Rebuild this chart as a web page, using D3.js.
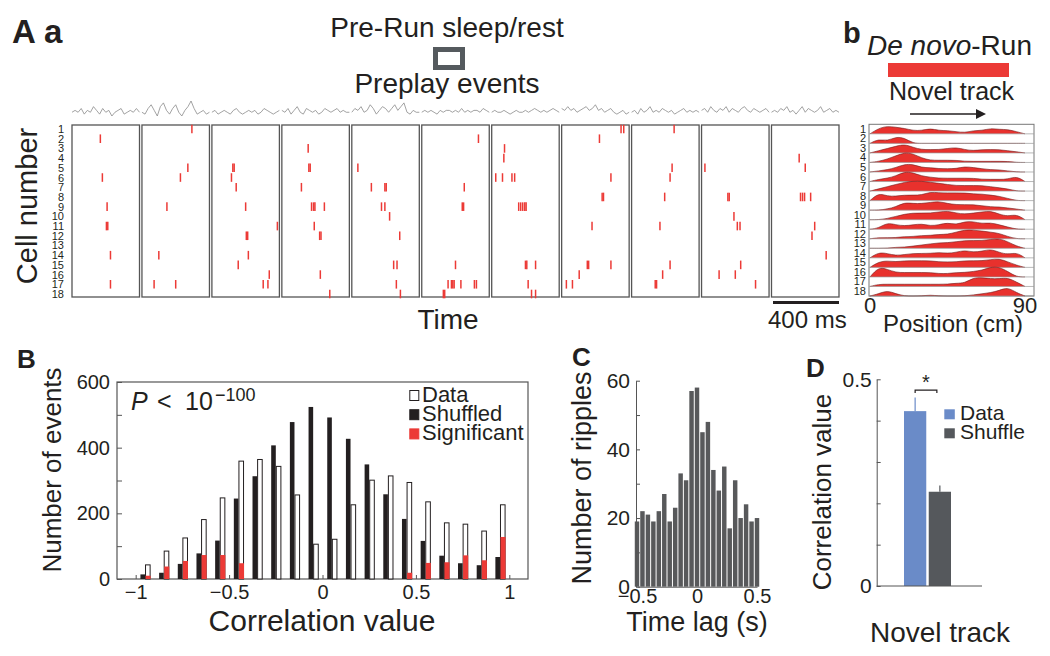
<!DOCTYPE html>
<html>
<head>
<meta charset="utf-8">
<title>Preplay figure</title>
<script src="https://d3js.org/d3.v7.min.js"></script>
<style>
  body { margin: 0; background: #fff; }
  svg text { font-family: "Liberation Sans", Arial, sans-serif; fill: #231f20; }
</style>
</head>
<body>
<script>
// ---------------- data ----------------
var cellNumbers = d3.range(1, 19);

// panel A: spikes per preplay event, [cell, time fraction in the window]
var eventSpikes = [
  [[2,.42],[6,.45],[9,.52],[11,.51],[11,.53],[14,.57],[17,.57]],
  [[1,.74],[5,.68],[6,.57],[9,.37],[14,.25],[17,.18],[17,.50]],
  [[5,.31],[5,.33],[6,.29],[7,.36],[9,.50],[11,.97],[12,.51],[12,.53],[14,.54],[15,.39],[16,.85],[17,.76],[17,.83]],
  [[3,.39],[5,.40],[5,.42],[7,.29],[9,.44],[9,.47],[9,.49],[9,.63],[11,.48],[12,.56],[12,.58],[16,.57],[18,.71]],
  [[5,.09],[7,.29],[7,.49],[7,.51],[9,.44],[9,.49],[10,.56],[12,.71],[15,.62],[15,.67],[17,.66],[18,.72]],
  [[2,.84],[7,.63],[9,.60],[9,.62],[15,.50],[17,.39],[17,.44],[17,.46],[17,.48],[17,.58],[17,.78],[17,.81],[18,.32],[18,.34]],
  [[3,.19],[4,.18],[6,.06],[6,.16],[6,.30],[6,.34],[9,.40],[9,.43],[9,.46],[9,.49],[9,.51],[15,.50],[15,.52],[15,.65],[17,.54],[18,.59],[18,.65]],
  [[1,.88],[1,.92],[2,.56],[6,.73],[8,.60],[8,.62],[11,.45],[15,.38],[15,.40],[15,.73],[16,.26],[17,.07],[17,.16]],
  [[1,.63],[5,.60],[6,.57],[8,.49],[11,.42],[15,.57],[16,.46],[17,.35],[17,.37]],
  [[5,.05],[8,.39],[8,.41],[10,.48],[11,.53],[11,.57],[15,.58],[16,.26],[16,.50],[17,.80]],
  [[4,.41],[5,.50],[8,.43],[8,.46],[8,.49],[8,.58],[11,.64],[12,.60],[14,.81]]
];

// LFP trace above each event window (relative units)
var lfpTraces = [
  [0,1,0,2,-1,1,0,3,1,-1,2,0,1,-2,0,1,2,-1,0,1,0,2,0],
  [0,-1,2,4,1,-2,3,5,1,-1,2,4,0,-2,1,3,6,2,-1,0,1,-1,0],
  [0,1,-1,0,1,0,-1,1,2,0,-1,0,1,0,1,-1,0,2,1,0,-1,0,1],
  [1,0,2,-1,1,3,0,-1,2,1,0,1,-1,0,2,1,0,1,2,0,1,0,0],
  [0,2,1,3,0,1,4,2,-1,1,3,2,0,2,4,1,3,5,0,-1,1,0,0],
  [0,1,0,1,0,-1,1,0,1,1,0,1,0,2,0,1,0,1,1,0,2,1,0],
  [0,1,0,0,1,0,-1,0,1,0,0,1,0,1,2,1,0,1,0,1,2,1,0],
  [2,1,3,1,2,0,1,2,3,1,2,4,1,2,0,1,2,0,-1,0,1,-1,0],
  [0,1,-1,2,0,1,3,0,1,0,2,1,0,1,-1,0,1,2,0,1,0,1,0],
  [1,2,0,3,1,0,2,1,3,0,2,1,0,2,3,1,0,2,1,0,1,2,0],
  [0,1,0,2,1,3,0,1,-1,1,3,0,2,1,0,1,3,0,1,2,0,1,0]
];

// panel b: place-field rates on the novel track (cm)
var trackPositions = [0,5,10,15,20,25,30,35,40,45,50,55,60,65,70,75,80,85,90];
var fieldRates = [
  [0,5,7,6,5,3,3,5,3,3,2,1,3,3,5,4,4,2,0],
  [0,4,2,6,5,0,0,0,0,0,0,0,0,0,0,0,0,0,0],
  [0,2,4,6,8,5,3,3,3,4,5,3,2,3,3,3,2,1,0],
  [0,1,3,6,9,8,4,2,2,2,2,1,1,1,1,1,1,0,0],
  [0,1,2,4,7,7,4,4,3,3,3,5,4,3,2,2,1,0,0],
  [0,2,3,5,9,8,5,4,3,3,3,3,3,2,2,2,2,5,0],
  [0,2,4,6,8,9,9,8,7,6,5,5,5,5,4,3,2,0,0],
  [0,7,4,4,5,5,5,8,7,7,7,7,6,6,5,4,2,0,0],
  [0,0,1,3,7,6,6,7,8,6,5,5,5,4,3,3,2,1,0],
  [0,0,1,3,5,6,6,6,7,8,6,5,6,7,8,5,3,5,0],
  [0,1,6,4,3,4,5,3,4,6,4,7,7,5,6,4,2,0,0],
  [0,1,1,1,2,2,3,3,4,4,6,8,8,7,6,5,2,0,0],
  [0,0,0,1,1,2,3,4,5,5,6,7,7,7,8,9,6,2,0],
  [0,5,4,2,3,4,4,4,5,4,5,7,5,6,8,5,3,5,0],
  [0,5,6,5,6,6,6,6,5,5,5,6,6,6,7,8,5,2,0],
  [0,9,7,4,4,4,4,4,3,3,4,4,5,6,9,9,5,0,0],
  [0,2,2,2,2,2,2,2,2,2,3,3,8,8,7,7,8,4,0],
  [0,2,5,2,0,0,0,1,0,0,0,0,1,2,3,5,8,3,0]
];

// panel B: correlation histogram
var corrBins = [-0.95,-0.85,-0.75,-0.65,-0.55,-0.45,-0.35,-0.25,-0.15,-0.05,
                0.05,0.15,0.25,0.35,0.45,0.55,0.65,0.75,0.85,0.95];
var dataCounts = [43,85,125,181,247,359,364,343,256,106,121,226,301,314,294,235,171,167,146,226];
var shuffledCounts = [14,19,46,78,117,245,313,407,478,524,492,427,349,258,183,116,71,48,42,67];
var significantCounts = [10,38,55,73,73,48,0,0,0,0,0,0,0,0,19,49,51,72,57,128];
var legendB = ["Data","Shuffled","Significant"];

// panel C: ripple time lags
var lagBins = d3.range(23).map(function (i) { return -0.5 + i / 22; });
var rippleCounts = [19,22,21,19,22,27,19,23,33,31,57,58,45,48,34,28,35,17,31,20,24,19,20];

// panel D: mean correlation
var groupsD = ["Data","Shuffle"];
var meansD = [0.423,0.228];
var errorsD = [0.033,0.015];

// ---------------- drawing ----------------
var svg = d3.select("body").append("svg")
  .attr("width", 1050).attr("height", 656);

var red = "#ec3a36";
var numFmt = d3.format("");

function label(x, y, txt, size, opts) {
  opts = opts || {};
  var t = svg.append("text").attr("x", x).attr("y", y)
    .attr("font-size", size).text(txt);
  if (opts.anchor) t.attr("text-anchor", opts.anchor);
  if (opts.bold) t.attr("font-weight", "bold");
  if (opts.rotate) t.attr("transform", "rotate(-90," + x + "," + y + ")");
  return t;
}

function styleAxis(a, size) {
  a.selectAll("text").attr("font-size", size).attr("font-family", null).attr("fill", "#231f20");
  a.selectAll("text").filter(function () { return this.textContent === ""; }).remove();
  a.selectAll("line").attr("stroke", "#555");
  a.select(".domain").attr("stroke", "#555");
}

// ---- panel A a ----
label(12, 43, "A", 33, {bold: true});
label(44, 43, "a", 33, {bold: true});
label(447, 37, "Pre-Run sleep/rest", 28, {anchor: "middle"});
svg.append("rect").attr("x", 435.5).attr("y", 49.5).attr("width", 27).attr("height", 18)
  .attr("fill", "#fff").attr("stroke", "#555a5e").attr("stroke-width", 5);
label(447, 93, "Preplay events", 28, {anchor: "middle"});

var xEvent = d3.scaleBand().domain(d3.range(eventSpikes.length))
  .range([72, 839]).paddingInner(0.035);
var yCell = d3.scaleLinear().domain([1, 18]).range([129, 294]);
var rasterTop = 125, rasterBottom = 297;

var yLfp = d3.scaleLinear().domain([-2, 6]).range([116, 101]);
lfpTraces.forEach(function (tr, i) {
  var xt = d3.scaleLinear().domain([0, tr.length - 1])
    .range([xEvent(i), xEvent(i) + xEvent.bandwidth()]);
  svg.append("path")
    .attr("d", d3.line().x(function (d, j) { return xt(j); }).y(function (d) { return yLfp(d); })(tr))
    .attr("fill", "none").attr("stroke", "#8a8a8a").attr("stroke-width", 0.8);
});

eventSpikes.forEach(function (spikes, i) {
  var g = svg.append("g");
  var x0 = xEvent(i), w = xEvent.bandwidth();
  g.append("rect").attr("x", x0).attr("y", rasterTop)
    .attr("width", w).attr("height", rasterBottom - rasterTop)
    .attr("fill", "none").attr("stroke", "#555").attr("stroke-width", 1.3);
  g.selectAll("line").data(spikes).enter().append("line")
    .attr("x1", function (d) { return x0 + d[1] * w; })
    .attr("x2", function (d) { return x0 + d[1] * w; })
    .attr("y1", function (d) { return yCell(d[0]) - 4.3; })
    .attr("y2", function (d) { return yCell(d[0]) + 4.3; })
    .attr("stroke", red).attr("stroke-width", 1.5);
});

svg.selectAll(".celllab").data(cellNumbers).enter().append("text")
  .attr("class", "celllab")
  .attr("x", 64).attr("y", function (d) { return yCell(d) + 4; })
  .attr("text-anchor", "end").attr("font-size", 11).text(function (d) { return d; });

label(37, 206, "Cell number", 29, {anchor: "middle", rotate: true});
label(448, 329, "Time", 28, {anchor: "middle"});
svg.append("line").attr("x1", 773).attr("x2", 839).attr("y1", 302.5).attr("y2", 302.5)
  .attr("stroke", "#231f20").attr("stroke-width", 3);
label(768, 328, "400 ms", 24);

// ---- panel b ----
label(843, 43, "b", 29, {bold: true});
var dn = svg.append("text").attr("x", 867).attr("y", 55).attr("font-size", 28);
dn.append("tspan").attr("font-style", "italic").text("De novo");
dn.append("tspan").text("-Run");
svg.append("rect").attr("x", 888).attr("y", 63).attr("width", 121).attr("height", 14).attr("fill", red);
label(889, 100, "Novel track", 25);
svg.append("line").attr("x1", 910).attr("x2", 977).attr("y1", 114).attr("y2", 114)
  .attr("stroke", "#231f20").attr("stroke-width", 1.5);
svg.append("polygon").attr("points", "976,109 986,114 976,119").attr("fill", "#231f20");

var xPos = d3.scaleLinear().domain([0, 90]).range([870, 1025]);
var ridgeTop = 124.3, ridgeBottom = 296;
var yRow = d3.scaleLinear().domain([0, 18]).range([ridgeTop, ridgeBottom]);
var hRate = d3.scaleLinear().domain([0, 10]).range([0, 11]);

svg.append("rect").attr("x", 869).attr("y", ridgeTop).attr("width", 165)
  .attr("height", ridgeBottom - ridgeTop).attr("fill", "none")
  .attr("stroke", "#777").attr("stroke-width", 1);

fieldRates.forEach(function (rates, r) {
  var base = yRow(r + 1);
  var pts = rates.map(function (v, j) { return [trackPositions[j], v]; });
  var area = d3.area().curve(d3.curveBasis)
    .x(function (d) { return xPos(d[0]); })
    .y0(base).y1(function (d) { return base - hRate(d[1]); });
  var line = d3.line().curve(d3.curveBasis)
    .x(function (d) { return xPos(d[0]); })
    .y(function (d) { return base - hRate(d[1]); });
  svg.append("path").attr("d", area(pts)).attr("fill", "#e8312d");
  svg.append("path").attr("d", line(pts)).attr("fill", "none")
    .attr("stroke", "#6e1a1a").attr("stroke-width", 0.6);
  svg.append("line").attr("x1", 869).attr("x2", 1034).attr("y1", base).attr("y2", base)
    .attr("stroke", "#999").attr("stroke-width", 0.7);
  label(866, base - 1, r + 1, 11, {anchor: "end"});
});
label(xPos(0), 313, "0", 22, {anchor: "middle"});
label(xPos(90), 313, "90", 22, {anchor: "middle"});
label(953, 332, "Position (cm)", 24, {anchor: "middle"});

// ---- panel B ----
label(17, 368, "B", 26, {bold: true});
var xB = d3.scaleLinear().domain([-1.1, 1.1]).range([117, 528]);
var yB = d3.scaleLinear().domain([0, 600]).range([579, 382]);
var gB = svg.append("g");
gB.append("rect").attr("x", 117).attr("y", 382).attr("width", 411).attr("height", 197)
  .attr("fill", "none").attr("stroke", "#555").attr("stroke-width", 1.2);

var bw = 4.6;
gB.selectAll(".shuf").data(corrBins).enter().append("rect")
  .attr("x", function (d) { return xB(d) - bw; })
  .attr("y", function (d, i) { return yB(shuffledCounts[i]); })
  .attr("width", bw).attr("height", function (d, i) { return 579 - yB(shuffledCounts[i]); })
  .attr("fill", "#231f20");
gB.selectAll(".dat").data(corrBins).enter().append("rect")
  .attr("x", function (d) { return xB(d) + 0.5; })
  .attr("y", function (d, i) { return yB(dataCounts[i]); })
  .attr("width", bw).attr("height", function (d, i) { return 579 - yB(dataCounts[i]); })
  .attr("fill", "#fff").attr("stroke", "#231f20").attr("stroke-width", 1);
gB.selectAll(".sig").data(corrBins).enter().append("rect")
  .attr("x", function (d) { return xB(d) + 0.5; })
  .attr("y", function (d, i) { return yB(significantCounts[i]); })
  .attr("width", bw + 0.5).attr("height", function (d, i) { return 579 - yB(significantCounts[i]); })
  .attr("fill", red);

var axBy = gB.append("g").attr("transform", "translate(117,0)")
  .call(d3.axisLeft(yB).tickValues(d3.range(0, 601, 100)).tickSize(-5).tickPadding(7)
    .tickFormat(function (d) { return d % 200 === 0 ? d : ""; }));
var axBx = gB.append("g").attr("transform", "translate(0,579)")
  .call(d3.axisBottom(xB).tickValues([-1, -0.5, 0, 0.5, 1]).tickSize(-4).tickPadding(6)
    .tickFormat(numFmt));
[axBy, axBx].forEach(function (a) {
  a.select(".domain").remove();
  styleAxis(a, 20);
});

var pt = svg.append("text").attr("y", 410).attr("font-size", 25);
pt.append("tspan").attr("x", 131).attr("font-style", "italic").text("P");
pt.append("tspan").attr("x", 157).text("<");
pt.append("tspan").attr("x", 185).text("10");
pt.append("tspan").attr("x", 215).attr("y", 401).attr("font-size", 18).text("\u2212100");

var legColors = [["#fff", "#231f20"], ["#231f20", "#231f20"], [red, red]];
legendB.forEach(function (name, i) {
  var y = 390 + i * 19.2;
  svg.append("rect").attr("x", 409.8).attr("y", y + 0.5).attr("width", 9).attr("height", 10)
    .attr("fill", legColors[i][0]).attr("stroke", legColors[i][1]).attr("stroke-width", 1);
  label(422, y + 11.5, name, 22);
});
label(322, 631, "Correlation value", 30, {anchor: "middle"});
label(61, 470, "Number of events", 26, {anchor: "middle", rotate: true});

// ---- panel C ----
label(572, 366, "C", 26, {bold: true});
var xC = d3.scaleLinear().domain([-0.5, 0.5]).range([637, 757]);
var yC = d3.scaleLinear().domain([0, 60]).range([586.7, 380.7]);
var cw = (xC(1) - xC(0)) / 22;
svg.selectAll(".rip").data(lagBins).enter().append("rect")
  .attr("x", function (d) { return xC(d) - cw / 2 + 0.5; })
  .attr("y", function (d, i) { return yC(rippleCounts[i]); })
  .attr("width", cw - 1).attr("height", function (d, i) { return yC(0) - yC(rippleCounts[i]); })
  .attr("fill", "#58595b");
var axCy = svg.append("g").attr("transform", "translate(636,0)")
  .call(d3.axisLeft(yC).tickValues(d3.range(0, 61, 10)).tickSize(-4).tickSizeOuter(0).tickPadding(6)
    .tickFormat(function (d) { return d % 20 === 0 ? d : ""; }));
var axCx = svg.append("g").attr("transform", "translate(0,586.7)")
  .call(d3.axisBottom(xC).tickValues([-0.5, 0, 0.5]).tickSize(0).tickSizeOuter(0).tickPadding(2)
    .tickFormat(numFmt));
styleAxis(axCy, 21);
styleAxis(axCx, 20);
label(591, 478, "Number of ripples", 27, {anchor: "middle", rotate: true});
label(697, 631, "Time lag (s)", 27, {anchor: "middle"});

// ---- panel D ----
label(806, 377, "D", 26, {bold: true});
var yD = d3.scaleLinear().domain([0, 0.5]).range([586, 379.3]);
var xD = d3.scaleBand().domain(groupsD).range([904, 951]).paddingInner(0.1);
var colD = ["#6a8bc8", "#55585c"];
groupsD.forEach(function (g, i) {
  var cx = xD(g) + xD.bandwidth() / 2;
  svg.append("line").attr("x1", cx).attr("x2", cx)
    .attr("y1", yD(meansD[i])).attr("y2", yD(meansD[i] + errorsD[i]))
    .attr("stroke", colD[i]).attr("stroke-width", 1.2);
  svg.append("rect").attr("x", xD(g)).attr("y", yD(meansD[i]))
    .attr("width", xD.bandwidth()).attr("height", yD(0) - yD(meansD[i]))
    .attr("fill", colD[i]);
});
var axDy = svg.append("g").attr("transform", "translate(876.7,0)")
  .call(d3.axisLeft(yD).tickValues([0, 0.1, 0.2, 0.3, 0.4, 0.5]).tickSize(-4).tickSizeOuter(0).tickPadding(5)
    .tickFormat(function (d) { return d === 0 || d === 0.5 ? numFmt(d) : ""; }));
styleAxis(axDy, 21);
svg.append("line").attr("x1", 876.7).attr("x2", 982).attr("y1", 586).attr("y2", 586)
  .attr("stroke", "#555").attr("stroke-width", 1);

var bx1 = xD("Data") + xD.bandwidth() / 2, bx2 = xD("Shuffle") + xD.bandwidth() / 2 - 3;
var by = yD(0.474);
svg.append("path").attr("d", "M" + bx1 + "," + (by + 3) + "V" + by + "H" + bx2 + "V" + (by + 3))
  .attr("fill", "none").attr("stroke", "#231f20").attr("stroke-width", 1.2);
label((bx1 + bx2) / 2, by - 1, "*", 20, {anchor: "middle"});

groupsD.forEach(function (g, i) {
  var y = 409.3 + i * 19;
  svg.append("rect").attr("x", 944.3).attr("y", y).attr("width", 10.5).attr("height", 10)
    .attr("fill", colD[i]);
  label(960, y + 10.5, g, 21);
});
label(831, 492, "Correlation value", 26, {anchor: "middle", rotate: true});
label(940, 642, "Novel track", 28, {anchor: "middle"});
</script>
</body>
</html>
